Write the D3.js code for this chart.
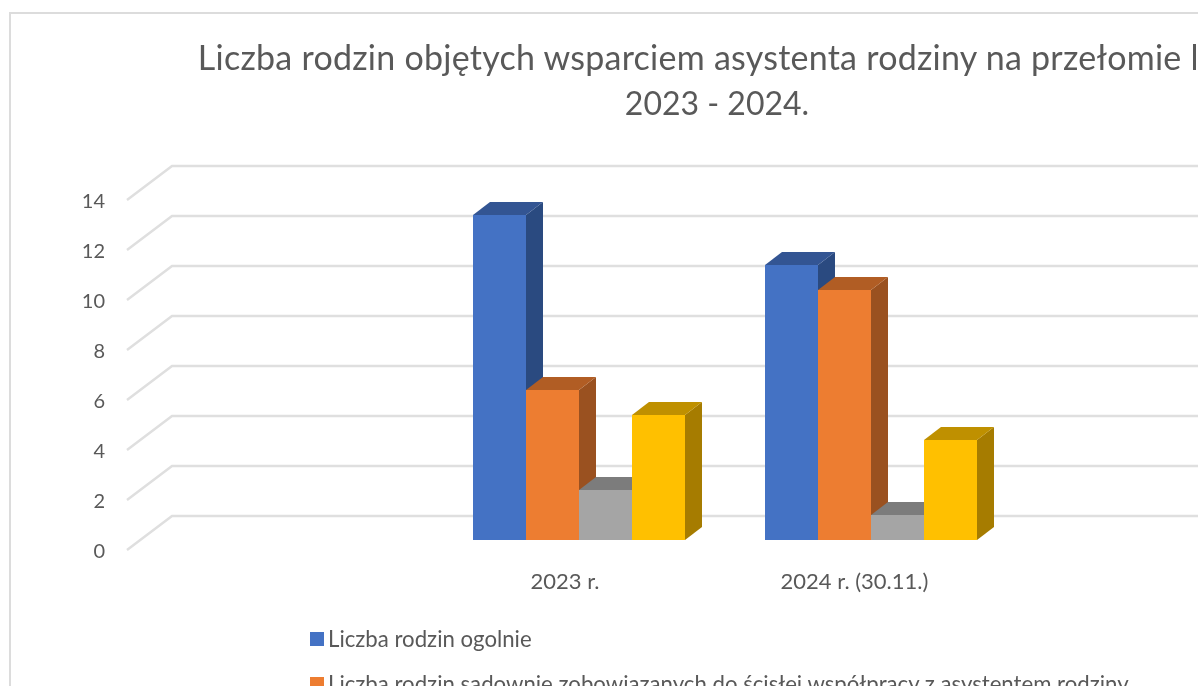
<!DOCTYPE html>
<html>
<head>
<meta charset="utf-8">
<script src="https://cdn.jsdelivr.net/npm/d3@7"></script>
<style>
    html, body { margin: 0; padding: 0; background: #fff; overflow: hidden; }
    svg { display: block; filter: blur(0.45px); }
    text { font-family: Lato, "Open Sans", sans-serif; fill: #595959; }
</style>
</head>
<body>
<svg width="1198" height="691"></svg>
<script>
const categories = ["2023 r.", "2024 r. (30.11.)"];
const seriesNames = ["ogolnie", "sadownie", "s3", "s4"];
const ogolnie = [13, 11];
const sadownie = [6, 10];
const seria3 = [2, 1];
const seria4 = [5, 4];
const yTicks = [0, 2, 4, 6, 8, 10, 12, 14];
const titleLines = ["Liczba rodzin objętych wsparciem asystenta rodziny na przełomie lat", "2023 - 2024."];
const legendNames = ["Liczba rodzin ogolnie", "Liczba rodzin sądownie zobowiązanych do ścisłej współpracy z asystentem rodziny"];

const seriesValues = [ogolnie, sadownie, seria3, seria4];
const front = ["#4472c4", "#ed7d31", "#a5a5a5", "#ffc000"];
const topFace = ["#335593", "#b15d24", "#7c7c7c", "#bf9000"];
const sideFace = ["#2a4a80", "#9a5120", "#6b6b6b", "#a67c00"];

const svg = d3.select("svg");
const width = +svg.attr("width");

// depth of the fake 3d
const dx = 17, dy = 13;
const wallDx = 45, wallDy = 34;

// value -> height, base of the bars sits at 540
const baseY = 540;
const yscale = d3.scaleLinear().domain([0, 14]).range([baseY, baseY - 350]);
// the axis labels sit on the front edge of the floor
const axisScale = d3.scaleLinear().domain([0, 14]).range([550, 200]);

const x0 = d3.scalePoint().domain(categories).range([579, 871]);
const x1 = d3.scaleBand().domain(d3.range(4)).range([-106, 106]);

// chart frame
svg.append("rect")
    .attr("x", 10).attr("y", 13)
    .attr("width", 1300).attr("height", 800)
    .attr("fill", "#fff")
    .attr("stroke", "#dcdcdc")
    .attr("stroke-width", 2);

// title, the lines need their own size since Lato digits run wide
svg.append("g").selectAll("text")
    .data(titleLines)
    .enter()
    .append("text")
    .attr("x", function (d, i) { return i == 0 ? 713 : 717; })
    .attr("y", function (d, i) { return 70 + i * 45; })
    .attr("text-anchor", "middle")
    .attr("font-size", function (d, i) { return i == 0 ? "34px" : "32px"; })
    .attr("letter-spacing", function (d, i) { return i == 0 ? "0.25px" : "0"; })
    .text(function (d) { return d; });

// grid, slanted wall part + back wall part
const grid = svg.append("g").attr("fill", "none").attr("stroke", "#dfdfdf").attr("stroke-width", 2.5);
grid.selectAll("path")
    .data(yTicks)
    .enter()
    .append("path")
    .attr("d", function (d) {
        const y = axisScale(d);
        return d3.line()([[127, y], [127 + wallDx, y - wallDy], [width, y - wallDy]]);
    });

// y axis
const yaxis = d3.axisLeft(axisScale).tickValues(yTicks).tickSize(0).tickPadding(0);
const yg = svg.append("g").attr("transform", "translate(105,1.5)").call(yaxis);
yg.select(".domain").remove();
yg.selectAll("text").attr("font-size", "20px").attr("font-family", null);

// bars, left to right so the later ones cover the side of the earlier ones
const groups = svg.append("g").selectAll("g")
    .data(categories)
    .enter()
    .append("g")
    .attr("transform", function (d) { return "translate(" + x0(d) + ",0)"; });

groups.each(function (cat, c) {
    const g = d3.select(this);
    seriesNames.forEach(function (name, s) {
        const v = seriesValues[s][c];
        const x = x1(s), w = x1.bandwidth(), y = yscale(v);
        const bar = g.append("g").attr("class", "bar");
        // side
        bar.append("path").attr("fill", sideFace[s])
            .attr("d", d3.line()([[x + w, y], [x + w + dx, y - dy], [x + w + dx, baseY - dy], [x + w, baseY]]) + "Z");
        // top
        bar.append("path").attr("fill", topFace[s])
            .attr("d", d3.line()([[x, y], [x + dx, y - dy], [x + w + dx, y - dy], [x + w, y]]) + "Z");
        // front
        bar.append("rect").attr("fill", front[s])
            .attr("x", x).attr("y", y).attr("width", w).attr("height", baseY - y);
    });
});

// category labels
svg.append("g").selectAll("text")
    .data(categories)
    .enter()
    .append("text")
    .attr("x", function (d, i) { return x0(d) - (i == 0 ? 14 : 16.5); })
    .attr("y", 589)
    .attr("text-anchor", "middle")
    .attr("font-size", "22px")
    .text(function (d) { return d; });

// legend, only what fits in the picture
const legend = svg.append("g").selectAll("g")
    .data(legendNames)
    .enter()
    .append("g")
    .attr("transform", function (d, i) { return "translate(310," + (632 + i * 45) + ")"; });
legend.append("rect")
    .attr("width", 14).attr("height", 14)
    .attr("fill", function (d, i) { return front[i]; });
legend.append("text")
    .attr("x", 18).attr("y", 15)
    .attr("font-size", "22.2px")
    .text(function (d) { return d; });

// the source picture is cut off here
svg.append("rect")
    .attr("x", 0).attr("y", 686)
    .attr("width", width).attr("height", 5)
    .attr("fill", "#fff");
</script>
</body>
</html>
